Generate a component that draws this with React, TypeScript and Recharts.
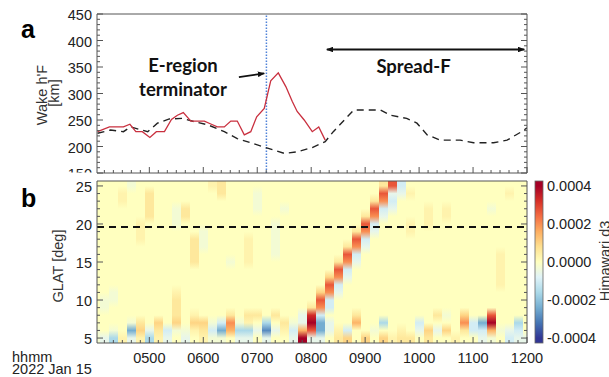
import React from 'react';
import { ComposedChart, Line, XAxis, YAxis, ReferenceLine, ReferenceArea } from 'recharts';

// ---------------- Panel a data ----------------
const RED_TIME = [4.04, 4.26, 4.52, 4.64, 4.75, 4.87, 5.01, 5.13, 5.28, 5.41, 5.52, 5.63, 5.77, 5.89, 6.02, 6.15, 6.26, 6.39, 6.51, 6.63, 6.76, 6.88, 6.99, 7.13, 7.25, 7.39, 7.53, 7.65, 7.74, 7.87, 8.02, 8.14, 8.26];
const RED_HF = [228, 237, 237, 242, 228, 228, 217, 228, 228, 251, 259, 264, 248, 248, 248, 242, 237, 237, 248, 248, 222, 228, 256, 272, 324, 339, 313, 285, 266, 250, 228, 237, 212];
const DASH_TIME = [4.04, 4.28, 4.52, 4.65, 4.97, 5.15, 5.37, 5.61, 5.83, 6.08, 6.39, 6.63, 6.94, 7.19, 7.5, 7.74, 8.02, 8.26, 8.41, 8.79, 9.28, 9.47, 9.77, 9.96, 10.15, 10.39, 10.76, 11.01, 11.38, 11.63, 11.9, 12.0];
const DASH_HF = [225, 231, 228, 237, 228, 244, 252, 253, 247, 241, 228, 215, 205, 197, 187, 190, 198, 209, 228, 269, 269, 259, 253, 244, 222, 212, 212, 207, 207, 212, 228, 235];
const HF_DOMAIN = [150, 450];
const HF_MAJOR = [150, 200, 250, 300, 350, 400, 450];
const TIME_DOMAIN = [4.03, 12];
const TIME_MAJOR = [5, 6, 7, 8, 9, 10, 11, 12];
const TERMINATOR_TIME = 7.17;
const ARROW_E = [{ x: 6.66, y: 331 }, { x: 7.13, y: 338 }];
const ARROW_SF = [{ x: 8.29, y: 383 }, { x: 11.95, y: 383 }];

// ---------------- Panel b data ----------------
const LAT_DOMAIN = [4.35, 25.65];
const LAT_MAJOR = [5, 10, 15, 20, 25];
const LAT_ROWS = [25, 24, 23, 22, 21, 20, 19, 18, 17, 16, 15, 14, 13, 12, 11, 10, 9, 8, 7, 6, 5];
const HEAT_FIRST = 4; // first column centre (hours)
const HEAT_COUNT = 49; // 10-minute columns 0400 ... 1200
// one string per latitude row (25 -> 5), one char per 10-min column
const HEAT_ROWS = [
  '0000a00000' + '0001200000' + '0000000000' + '0026c00000' + '000000000',
  '0001002000' + '00002000a0' + '0000000000' + '006bb10000' + '000000100',
  '0001002000' + '00000000a0' + '0000000000' + '025c000000' + '000000000',
  '000000200a' + '20000000a0' + '0a00000000' + '06cb000101' + '0000a0000',
  '000000200a' + '2000000000' + '0000000000' + '25b0000101' + '000000000',
  '000001000a' + '0000000000' + 'a000000000' + '6c00010100' + '000000000',
  '0000010000' + '00a0000000' + 'a000000002' + '5b00010000' + '000000000',
  '0000010000' + '02a0000100' + 'a000000006' + 'c000000000' + '000000000',
  '0000000000' + '02a0000100' + 'a000000025' + 'b000000000' + '000000000',
  '0000000000' + '0200000100' + 'a00000006c' + '0000000000' + '000001000',
  '0000000000' + '02000a0100' + '000000025b' + '0000000000' + '000001000',
  '0000000000' + '0000000000' + '00000006c0' + '0000000000' + '000001000',
  '0000000000' + '0000000000' + '00000035b0' + '0000000000' + '000001000',
  '0000000000' + '0000000000' + '0000006c00' + '0000000000' + '000001000',
  '00a0000001' + '0000000000' + '0000035b00' + '0000000000' + '000000000',
  '0aa0000002' + '0000000000' + '000006c000' + '0000000000' + '000000000',
  '0a00000002' + '0000000000' + '000025c000' + '0000000000' + '000000000',
  '0000000002' + '0100020220' + '200b7c0002' + '000000002a' + '030060000',
  '0000a20303' + '033ac5a10d' + '02ab8eb004' + '00d000c000' + '05ce800d0',
  'a0a0e3b2ca' + 'a12ce4ddbf' + 'b1c46eb1c0' + '0a0010b3b3' + '02cc4abc0',
  'abd1b1d1b0' + 'b01aa0bb0b' + '00b8bb0230' + '3031220200' + '100ba0cbb',
];
// level code -> value in units of 1e-4
const LEVELS: Record<string, number> = {
  '0': 0, '1': 0.3, '2': 0.6, '3': 1.0, '4': 1.5, '5': 2.0, '6': 2.7, '7': 3.3, '8': 4.0,
  a: -0.3, b: -0.6, c: -1.0, d: -1.6, e: -2.4, f: -2.9,
};
const DASH_LAT = 19.6;
const CB_TICKS = [4, 2, 0, -2, -4];
const CB_LABELS = ['0.0004', '0.0002', '0.0000', '-0.0002', '-0.0004'];
const CB_MAX = 4.26;

const RDYLBU_R = ['#313695', '#4575b4', '#74add1', '#abd9e9', '#e0f3f8', '#ffffbf', '#fee090', '#fdae61', '#f46d43', '#d73027', '#a50026'];

function hexToRgb(h: string) {
  return [parseInt(h.slice(1, 3), 16), parseInt(h.slice(3, 5), 16), parseInt(h.slice(5, 7), 16)];
}
function colorFor(v: number) {
  let t = ((v / 4 + 1) / 2) * 10;
  t = Math.max(0, Math.min(10, t));
  const i = Math.min(9, Math.floor(t));
  const f = t - i;
  const a = hexToRgb(RDYLBU_R[i]);
  const b = hexToRgb(RDYLBU_R[i + 1]);
  const c = a.map((x, j) => Math.round(x + (b[j] - x) * f));
  return `rgb(${c[0]},${c[1]},${c[2]})`;
}

const FONT = '"Liberation Sans", Arial, sans-serif';
const BOLD = 'Lato, "Open Sans", sans-serif';
const AX = '#555';

function range(a: number, b: number, step: number) {
  const out: number[] = [];
  for (let v = a; v <= b + 1e-9; v += step) out.push(Math.round(v * 1e6) / 1e6);
  return out;
}
const TIME_TICKS = range(4 + 1 / 6, 12, 1 / 6);
const HF_TICKS = range(150, 450, 10);
const LAT_TICKS = range(5, 25, 1);

const fmtTime = (v: number) => String(Math.round(v)).padStart(2, '0') + '00';

function makeTick(orient: string, majors: number[], fmt?: (v: number) => string, clip?: string) {
  return (props: any) => {
    const { x, y, payload } = props;
    const v = payload.value;
    const major = majors.some((m) => Math.abs(m - v) < 1e-4);
    const len = major ? 6 : 3;
    let x2 = x;
    let y2 = y;
    if (orient === 'left') x2 = x + len;
    if (orient === 'right') x2 = x - len;
    if (orient === 'top') y2 = y + len;
    if (orient === 'bottom') y2 = y - len;
    return (
      <g>
        <line x1={x} y1={y} x2={x2} y2={y2} stroke={AX} strokeWidth={1} />
        {major && fmt && orient === 'left' && (
          <g clipPath={clip ? `url(#${clip})` : undefined}>
            <text x={x - 5} y={y + 6} textAnchor="end" fontFamily={FONT} fontSize={14.5} fill="#222">
              {fmt(v)}
            </text>
          </g>
        )}
        {major && fmt && orient === 'bottom' && (
          <text x={x} y={y + 20} textAnchor="middle" fontFamily={FONT} fontSize={14.5} fill="#222">
            {fmt(v)}
          </text>
        )}
      </g>
    );
  };
}

const redData = RED_TIME.map((t, i) => ({ t, v: RED_HF[i] }));
const dashData = DASH_TIME.map((t, i) => ({ t, v: DASH_HF[i] }));
const heatCols = Array.from({ length: HEAT_COUNT }, (_, k) => ({
  t: HEAT_FIRST + k / 6,
  vals: LAT_ROWS.map((lat, r) => ({ lat, v: LEVELS[HEAT_ROWS[r][k]] ?? 0 })),
}));

const abs: React.CSSProperties = { position: 'absolute', left: 0, top: 0 };

export default function App() {
  const latSpan = LAT_DOMAIN[1] - LAT_DOMAIN[0];
  return (
    <div style={{ position: 'absolute', left: 0, top: 0, width: 609, height: 377, background: '#fff', overflow: 'hidden' }}>
      {/* Panel b */}
      <div style={abs}>
        <ComposedChart width={609} height={377} margin={{ top: 180, right: 81, bottom: 33, left: 96 }}>
          <defs>
            {heatCols.map((c, k) => (
              <linearGradient key={k} id={`hm${k}`} x1="0" y1="0" x2="0" y2="1">
                {c.vals.map((cell, r) => (
                  <stop key={r} offset={(LAT_DOMAIN[1] - cell.lat) / latSpan} stopColor={colorFor(cell.v)} />
                ))}
              </linearGradient>
            ))}
          </defs>
          {heatCols.map((c, k) => (
            <ReferenceArea key={k} xAxisId="b" yAxisId="l" x1={c.t - 1 / 12} x2={c.t + 1 / 12} y1={LAT_DOMAIN[0]} y2={LAT_DOMAIN[1]}
              fill={`url(#hm${k})`} fillOpacity={1} stroke="none" ifOverflow="hidden" shapeRendering="crispEdges" />
          ))}
          <ReferenceLine xAxisId="b" yAxisId="l" y={DASH_LAT} stroke="#111" strokeWidth={2} strokeDasharray="7 5" />
          <XAxis xAxisId="b" type="number" dataKey="t" domain={TIME_DOMAIN} allowDataOverflow ticks={TIME_TICKS} interval={0}
            height={1} tickSize={0} tickMargin={0} tickLine={false} axisLine={{ stroke: AX }} tick={makeTick('bottom', TIME_MAJOR, fmtTime)} />
          <XAxis xAxisId="t" orientation="top" type="number" domain={TIME_DOMAIN} allowDataOverflow ticks={TIME_TICKS} interval={0}
            height={1} tickSize={0} tickMargin={0} tickLine={false} axisLine={{ stroke: AX }} tick={makeTick('top', TIME_MAJOR)} />
          <YAxis yAxisId="l" type="number" domain={LAT_DOMAIN} allowDataOverflow ticks={LAT_TICKS} interval={0}
            width={1} tickSize={0} tickMargin={0} tickLine={false} axisLine={{ stroke: AX }} tick={makeTick('left', LAT_MAJOR, (v) => String(v))} />
          <YAxis yAxisId="r" orientation="right" type="number" domain={LAT_DOMAIN} allowDataOverflow ticks={LAT_TICKS} interval={0}
            width={1} tickSize={0} tickMargin={0} tickLine={false} axisLine={{ stroke: AX }} tick={makeTick('right', LAT_MAJOR)} />
        </ComposedChart>
      </div>

      {/* Panel a */}
      <div style={abs}>
        <ComposedChart width={609} height={377} margin={{ top: 13, right: 81, bottom: 203, left: 96 }}>
          <defs>
            <marker id="ah" viewBox="0 0 10 8" refX="9" refY="4" markerWidth="4" markerHeight="3.2" orient="auto-start-reverse">
              <path d="M0,0 L10,4 L0,8 z" fill="#111" />
            </marker>
            <clipPath id="clipA" clipPathUnits="userSpaceOnUse">
              <rect x={0} y={0} width={609} height={172.5} />
            </clipPath>
          </defs>
          <XAxis xAxisId="b" type="number" dataKey="t" domain={TIME_DOMAIN} allowDataOverflow ticks={TIME_TICKS} interval={0}
            height={1} tickSize={0} tickMargin={0} tickLine={false} axisLine={{ stroke: AX }} tick={makeTick('bottom', TIME_MAJOR)} />
          <XAxis xAxisId="t" orientation="top" type="number" domain={TIME_DOMAIN} allowDataOverflow ticks={TIME_TICKS} interval={0}
            height={1} tickSize={0} tickMargin={0} tickLine={false} axisLine={{ stroke: AX }} tick={makeTick('top', TIME_MAJOR)} />
          <YAxis yAxisId="l" type="number" domain={HF_DOMAIN} allowDataOverflow ticks={HF_TICKS} interval={0}
            width={1} tickSize={0} tickMargin={0} tickLine={false} axisLine={{ stroke: AX }} tick={makeTick('left', HF_MAJOR, (v) => String(v), 'clipA')} />
          <YAxis yAxisId="r" orientation="right" type="number" domain={HF_DOMAIN} allowDataOverflow ticks={HF_TICKS} interval={0}
            width={1} tickSize={0} tickMargin={0} tickLine={false} axisLine={{ stroke: AX }} tick={makeTick('right', HF_MAJOR)} />
          <ReferenceLine xAxisId="b" yAxisId="l" x={TERMINATOR_TIME} stroke="#4f82d8" strokeWidth={1.5} strokeDasharray="1.5 1.5" />
          <Line xAxisId="b" yAxisId="l" data={dashData} dataKey="v" type="linear" stroke="#222" strokeWidth={1.4}
            strokeDasharray="7 5" dot={false} activeDot={false} isAnimationActive={false} />
          <Line xAxisId="b" yAxisId="l" data={redData} dataKey="v" type="linear" stroke="#c9303f" strokeWidth={1.3}
            dot={false} activeDot={false} isAnimationActive={false} />
          <ReferenceLine xAxisId="b" yAxisId="l" segment={ARROW_E} ifOverflow="visible"
            shape={(p: any) => <line x1={p.x1} y1={p.y1} x2={p.x2} y2={p.y2} stroke="#111" strokeWidth={1.8} markerEnd="url(#ah)" />} />
          <ReferenceLine xAxisId="b" yAxisId="l" segment={ARROW_SF} ifOverflow="visible"
            shape={(p: any) => <line x1={p.x1} y1={p.y1} x2={p.x2} y2={p.y2} stroke="#111" strokeWidth={1.8} markerEnd="url(#ah)" markerStart="url(#ah)" />} />
        </ComposedChart>
      </div>

      {/* Text, labels and colour bar */}
      <svg width={609} height={377} style={{ ...abs, pointerEvents: 'none' }}>
        <defs>
          <linearGradient id="cbGrad" x1="0" y1="0" x2="0" y2="1">
            {RDYLBU_R.slice().reverse().map((col, i) => {
              const v = 4 - 0.8 * i;
              return <stop key={i} offset={(CB_MAX - v) / (2 * CB_MAX)} stopColor={col} />;
            })}
          </linearGradient>
        </defs>
        <text x={21} y={38} fontFamily={FONT} fontWeight="bold" fontSize={25} fill="#000">a</text>
        <text x={21} y={207} fontFamily={FONT} fontWeight="bold" fontSize={25} fill="#000">b</text>
        <text transform="translate(46.5,95) rotate(-90)" textAnchor="middle" fontFamily={FONT} fontSize={14.5} fill="#333">Wake h'F</text>
        <text transform="translate(58.5,93) rotate(-90)" textAnchor="middle" fontFamily={FONT} fontSize={14.5} fill="#333">[km]</text>
        <text transform="translate(63,266) rotate(-90)" textAnchor="middle" fontFamily={FONT} fontSize={14.5} fill="#333">GLAT [deg]</text>
        <text transform="translate(609.5,261) rotate(-90)" textAnchor="middle" fontFamily={FONT} fontSize={14.5} fill="#333">Himawari d3</text>
        <text x={12} y={362} fontFamily={FONT} fontSize={14.5} fill="#222">hhmm</text>
        <text x={12} y={374} fontFamily={FONT} fontSize={14.5} fill="#222">2022 Jan 15</text>
        <text x={183} y={72} textAnchor="middle" fontFamily={BOLD} fontWeight="bold" fontSize={18.5} fill="#111">E-region</text>
        <text x={183} y={96} textAnchor="middle" fontFamily={BOLD} fontWeight="bold" fontSize={18.5} fill="#111">terminator</text>
        <text x={413.5} y={73} textAnchor="middle" fontFamily={BOLD} fontWeight="bold" fontSize={18.5} fill="#111">Spread-F</text>
        <rect x={535} y={181} width={8} height={162} fill="url(#cbGrad)" stroke="#666" strokeWidth={0.8} />
        {CB_TICKS.map((v, i) => (
          <text key={i} x={547} y={262 - (v / CB_MAX) * 81 + 5} fontFamily={FONT} fontSize={14.5} fill="#222">{CB_LABELS[i]}</text>
        ))}
      </svg>
    </div>
  );
}
